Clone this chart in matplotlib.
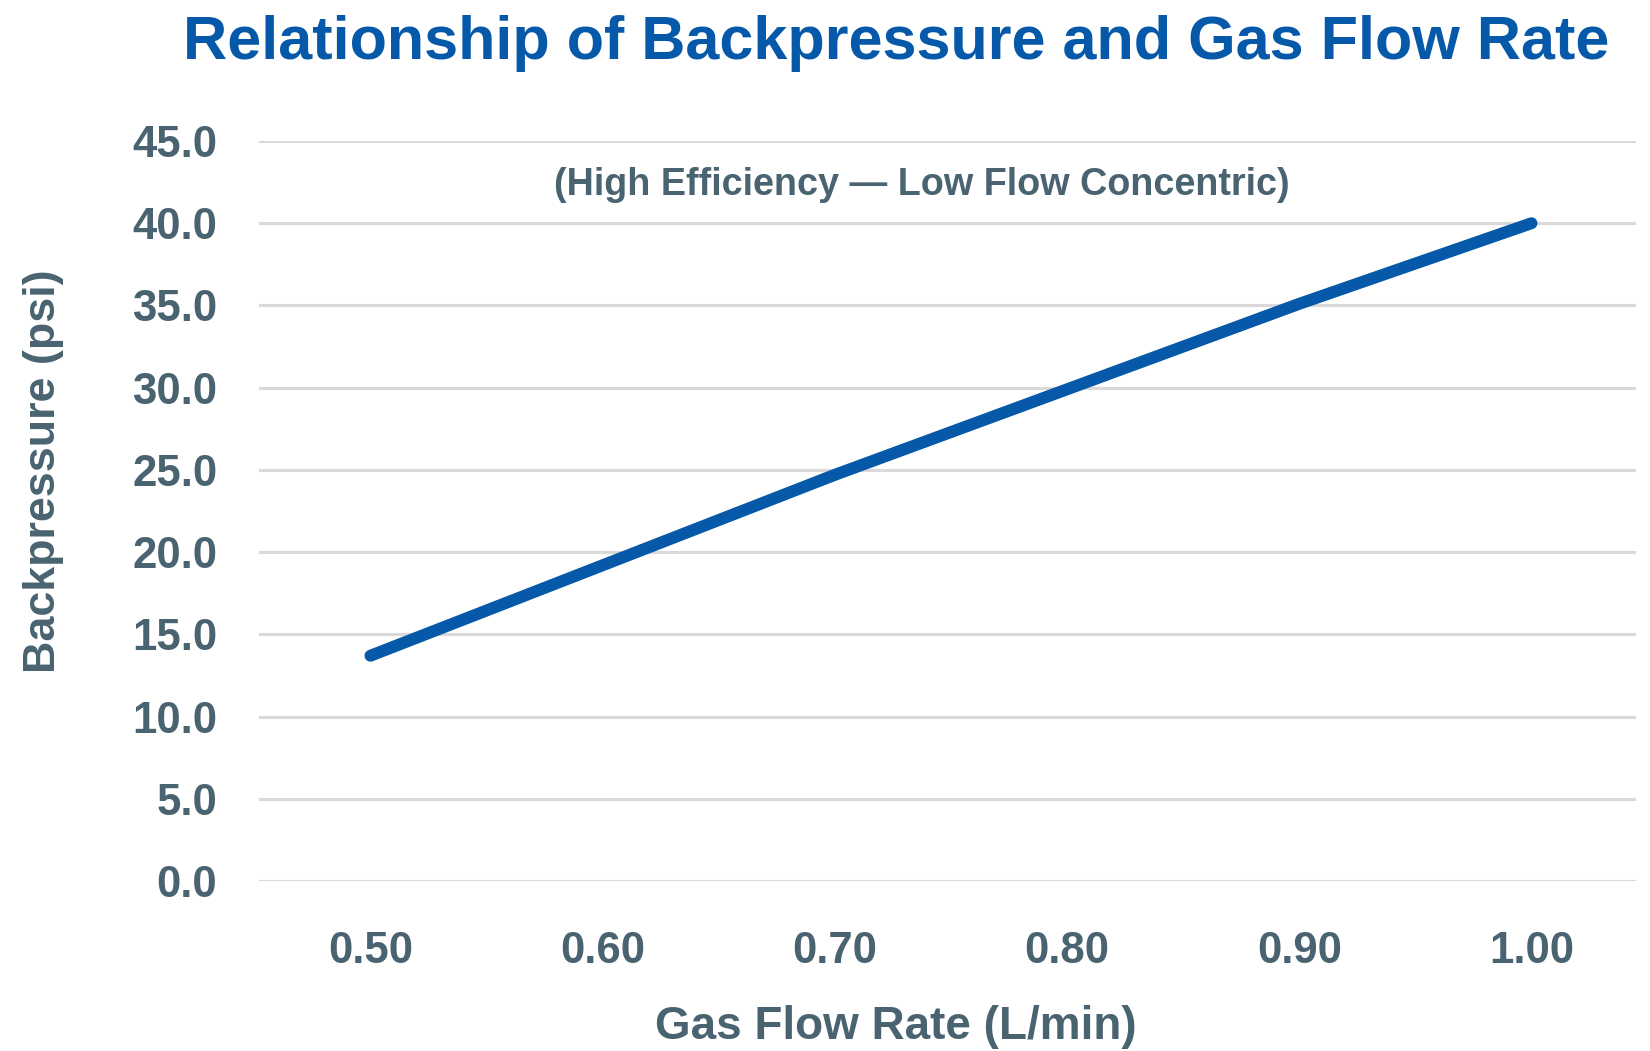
import matplotlib
matplotlib.use("Agg")
import matplotlib.pyplot as plt
from matplotlib.ticker import FormatStrFormatter

# Data
flow_rate = [0.50, 0.60, 0.70, 0.80, 0.90, 1.00]          # L/min
backpressure = [13.7, 19.2, 24.7, 29.9, 35.1, 40.0]       # psi
y_ticks = [0, 5, 10, 15, 20, 25, 30, 35, 40, 45]
x_ticks = [0.50, 0.60, 0.70, 0.80, 0.90, 1.00]

title = "Relationship of Backpressure and Gas Flow Rate"
subtitle = "(High Efficiency \u2014 Low Flow Concentric)"
x_label = "Gas Flow Rate (L/min)"
y_label = "Backpressure (psi)"

BLUE = "#0559A8"
TEXT = "#4A6371"
GRID = "#D9D9D9"
FONT = "Liberation Sans"

W, H = 1650, 1051
fig = plt.figure(figsize=(W / 100, H / 100), dpi=100)
ax = fig.add_axes([259 / W, 1 - 881 / H, (1636 - 259) / W, (881 - 141) / H])

ax.plot(flow_rate, backpressure, color=BLUE, linewidth=8.6,
        solid_capstyle="round", zorder=3)

ax.set_xlim(0.452, 1.045)
ax.set_ylim(0, 45)
ax.set_xticks(x_ticks)
ax.set_yticks(y_ticks)
ax.xaxis.set_major_formatter(FormatStrFormatter("%.2f"))
ax.yaxis.set_major_formatter(FormatStrFormatter("%.1f"))

ax.grid(axis="y", color=GRID, linewidth=2.2, zorder=0)
ax.grid(axis="x", visible=False)
for s in ax.spines.values():
    s.set_visible(False)
ax.tick_params(axis="both", length=0, colors=TEXT)
ax.tick_params(axis="y", pad=30)
ax.tick_params(axis="x", pad=36)
for lab in ax.get_xticklabels() + ax.get_yticklabels():
    lab.set_fontfamily(FONT)
    lab.set_fontweight("bold")
    lab.set_fontsize(31.5)
    lab.set_color(TEXT)

fig.text(896 / W, 1 - 43 / H, title, ha="center", va="center",
         fontsize=44, fontweight="bold", color=BLUE, family=FONT)
fig.text(921.5 / W, 1 - 185 / H, subtitle, ha="center", va="center",
         fontsize=27.2, fontweight="bold", color=TEXT, family=FONT)
fig.text(896 / W, 1 - 1027 / H, x_label, ha="center", va="center",
         fontsize=33, fontweight="bold", color=TEXT, family=FONT)
fig.text(44 / W, 1 - 471 / H, y_label, ha="center", va="center",
         rotation=90, fontsize=32.3, fontweight="bold", color=TEXT, family=FONT)

fig.savefig("out.png", dpi=100, facecolor="white")
